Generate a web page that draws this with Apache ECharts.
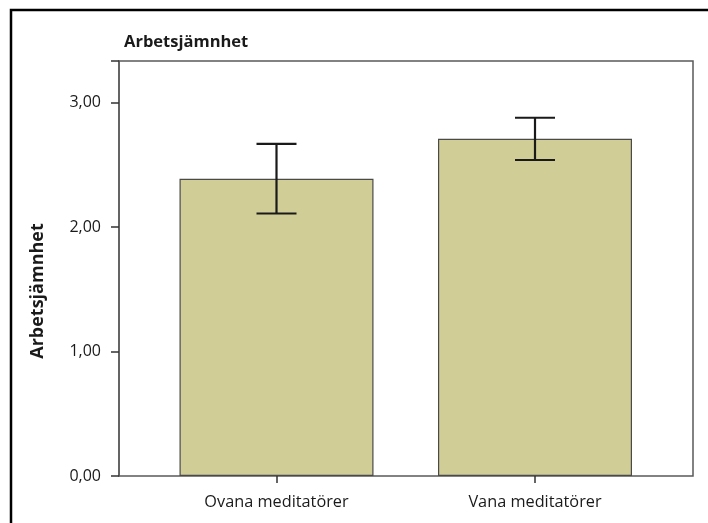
<!DOCTYPE html>
<html>
<head>
<meta charset="utf-8">
<script src="https://cdn.jsdelivr.net/npm/echarts@6/dist/echarts.min.js"></script>
<style>
html,body{margin:0;padding:0;background:#fff;}
#chart{width:708px;height:523px;}
</style>
</head>
<body>
<div id="chart"></div>
<script>
const categories = ['Ovana meditatörer', 'Vana meditatörer'];
const means = [2.39, 2.71];
const errLow = [2.11, 2.54];
const errHigh = [2.67, 2.88];
const yTicks = [0, 1, 2, 3];
const chartTitle = 'Arbetsjämnhet';
const yName = 'Arbetsjämnhet';

const YMAX = 3.336;
const FONT = '"Open Sans", "Noto Sans", sans-serif';

const chart = echarts.init(document.getElementById('chart'), null, {renderer: 'canvas'});

const errData = categories.map((c, i) => [i, errLow[i], errHigh[i]]);

chart.setOption({
  animation: false,
  backgroundColor: '#ffffff',
  title: {
    text: chartTitle,
    left: 119,
    top: 29,
    textStyle: {fontFamily: FONT, fontWeight: 'bold', fontSize: 16.5, color: '#1a1a1a'}
  },
  graphic: [
    {
      type: 'rect',
      shape: {x: 11, y: 10, width: 760, height: 560},
      style: {fill: 'none', stroke: '#000', lineWidth: 2.5},
      silent: true
    },
    {
      type: 'text',
      x: 38, y: 291,
      rotation: Math.PI / 2,
      style: {
        text: yName,
        font: 'bold 18px ' + FONT,
        fill: '#1a1a1a',
        textAlign: 'center',
        textVerticalAlign: 'middle'
      }
    }
  ],
  grid: [
    {left: 119, right: 15, top: 61, bottom: 47, show: true, borderColor: '#5a5a5a', borderWidth: 1.5, backgroundColor: 'transparent'},
    {left: 147.25, right: 43.75, top: 61, bottom: 47}
  ],
  xAxis: [
    {gridIndex: 0, type: 'value', min: 0, max: 1, show: false},
    {
      gridIndex: 1, type: 'category', data: categories,
      axisLine: {show: false},
      axisTick: {show: true, alignWithLabel: true, length: 7, lineStyle: {color: '#333', width: 1.5}},
      axisLabel: {fontFamily: FONT, fontSize: 16.3, color: '#1a1a1a', margin: 18}
    }
  ],
  yAxis: [
    {
      gridIndex: 0, type: 'value', min: 0, max: YMAX, interval: 1,
      axisLine: {show: true, lineStyle: {color: '#5a5a5a', width: 1.5}},
      axisTick: {show: true, length: 8, lineStyle: {color: '#333', width: 1.5}},
      splitLine: {show: false},
      axisLabel: {
        fontFamily: FONT, fontSize: 16, color: '#1a1a1a', margin: 18,
        formatter: v => yTicks.indexOf(v) >= 0 ? v.toFixed(2).replace('.', ',') : ''
      }
    },
    {gridIndex: 1, type: 'value', min: 0, max: YMAX, show: false}
  ],
  series: [
    {
      type: 'bar',
      xAxisIndex: 1, yAxisIndex: 1,
      data: means,
      barWidth: 194,
      itemStyle: {color: '#d1cd97', borderColor: '#4a4a4a', borderWidth: 1.2},
      silent: true
    },
    {
      type: 'custom',
      xAxisIndex: 1, yAxisIndex: 1,
      data: errData,
      silent: true,
      z: 10,
      renderItem: function (params, api) {
        const x = api.value(0);
        const lo = api.coord([x, api.value(1)]);
        const hi = api.coord([x, api.value(2)]);
        const hw = 20;
        const style = {stroke: '#1a1a1a', lineWidth: 2.2};
        return {
          type: 'group',
          children: [
            {type: 'line', shape: {x1: lo[0], y1: lo[1], x2: hi[0], y2: hi[1]}, style: style},
            {type: 'line', shape: {x1: hi[0] - hw, y1: hi[1], x2: hi[0] + hw, y2: hi[1]}, style: style},
            {type: 'line', shape: {x1: lo[0] - hw, y1: lo[1], x2: lo[0] + hw, y2: lo[1]}, style: style}
          ]
        };
      }
    }
  ]
});
</script>
</body>
</html>
